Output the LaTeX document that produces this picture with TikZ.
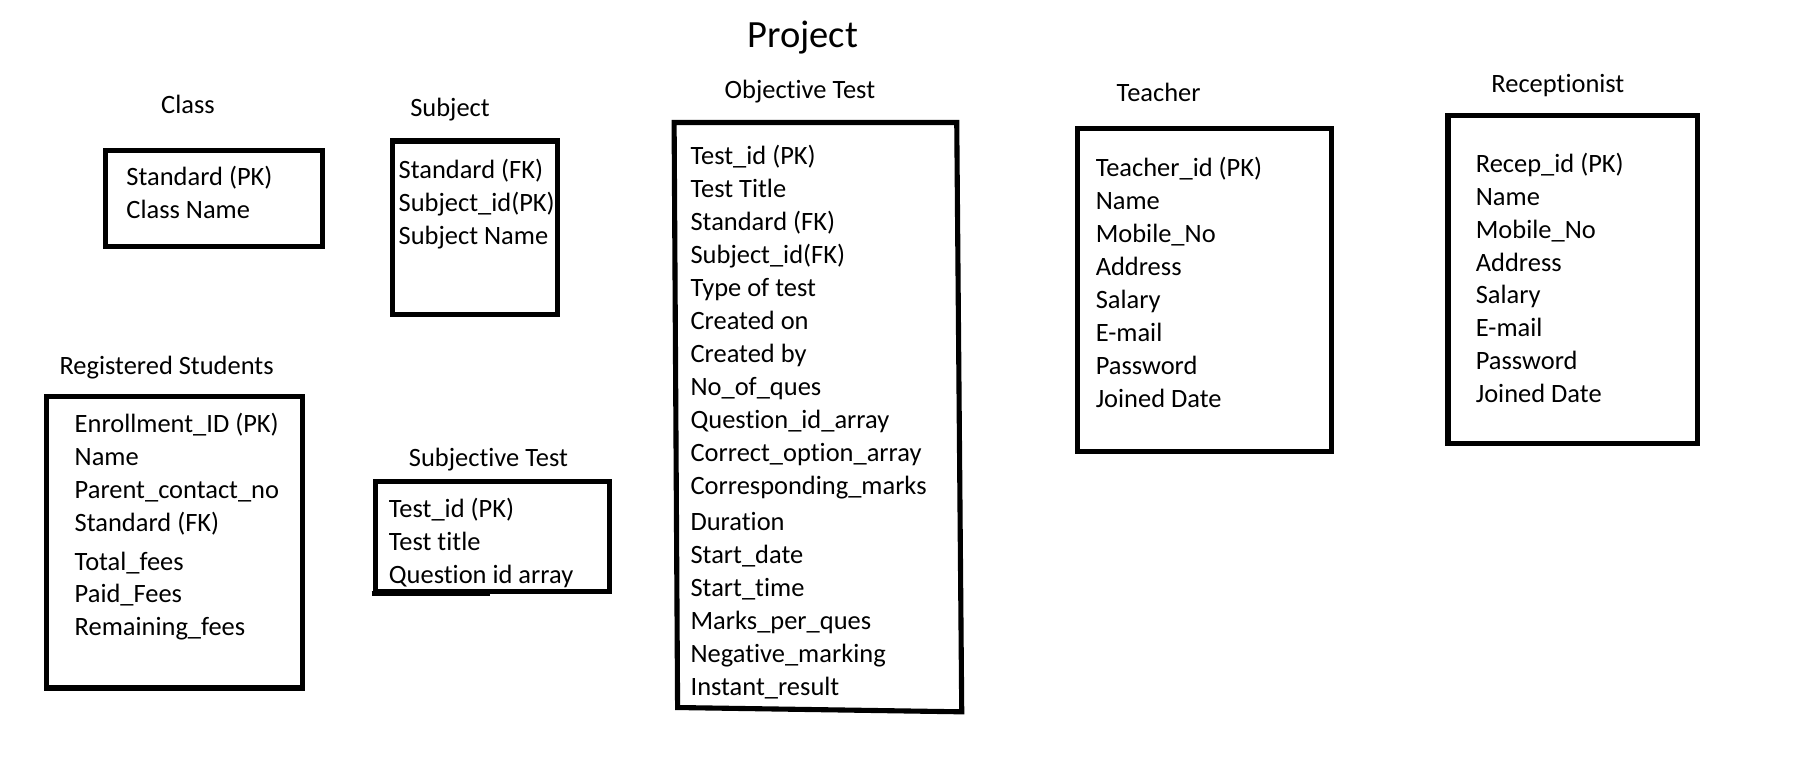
\documentclass[tikz,border=0pt]{standalone}
\usepackage{fontspec}
\setmainfont[Ligatures=NoCommon]{Carlito}
\usetikzlibrary{matrix,positioning}

\tikzset{
  tbl/.style={matrix of nodes, inner sep=0pt, anchor=north west, row sep=0pt,
    nodes={anchor=west, inner sep=0pt, text height=9.6pt, text depth=4.6pt,
      font=\fontsize{11.4}{14}\selectfont}},
  tblbox/.style={line width=2.2pt},
  ttl/.style={anchor=base, inner sep=0pt, font=\fontsize{11.4}{14}\selectfont}
}

\begin{document}
\begin{tikzpicture}[x=0.5pt,y=-0.5pt]
\useasboundingbox (0,0) rectangle (1560,674);

\node[anchor=base, inner sep=0pt, font=\fontsize{16.6}{20}\selectfont] (project) at (691.8,41.1) {Project};

% Class
\node[ttl] (class-t) at (162,97.4) {Class};
\draw[tblbox] (90.7,129.7) rectangle (278,212.5);
\matrix (class) [tbl] at (108.6,140.3) {
  Standard (PK) \\
  Class Name \\
};

% Subject
\node[ttl] (subj-t) at (387.9,100.6) {Subject};
\draw[tblbox] (338.4,121.5) rectangle (480.6,271.4);
\matrix (subj) [tbl] at (343.2,134.5) {
  Standard (FK) \\
  Subject\_id(PK) \\
  Subject Name \\
};

% Registered Students
\node[ttl] (reg-t) at (143.6,322.4) {Registered Students};
\draw[tblbox] (40.3,341.4) rectangle (260.8,593);
\matrix (reg) [tbl] at (64,352.9) {
  Enrollment\_ID (PK) \\
  Name \\
  Parent\_contact\_no \\
  Standard (FK) \\[2.6pt]
  Total\_fees \\
  Paid\_Fees \\
  Remaining\_fees \\
};

% Subjective Test
\node[ttl] (sbt-t) at (421,401.7) {Subjective Test};
\draw[tblbox] (324,414.7) -- (525,414.7) -- (525,510) -- (324,510) -- cycle;
\draw[tblbox] (320.4,511.5) -- (422.4,511.5);
\matrix (sbt) [tbl] at (334.8,426.2) {
  Test\_id (PK) \\
  Test title \\
  Question id array \\
};

% Objective Test
\node[ttl] (obt-t) at (689.4,84.8) {Objective Test};
\draw[tblbox] (581,105.6) -- (824.6,105.6) -- (828.9,613.5) -- (584,609.8) -- cycle;
\matrix (obt) [tbl] at (594.8,122.5) {
  Test\_id (PK) \\
  Test Title \\
  Standard (FK) \\
  Subject\_id(FK) \\
  Type of test \\
  Created on \\
  Created by \\
  No\_of\_ques \\
  Question\_id\_array \\
  Correct\_option\_array \\
  Corresponding\_marks \\[1.5pt]
  Duration \\
  Start\_date \\
  Start\_time \\
  Marks\_per\_ques \\
  Negative\_marking \\
  Instant\_result \\
};

% Teacher
\node[ttl] (teach-t) at (998.6,87.6) {Teacher};
\draw[tblbox] (928.9,110.8) rectangle (1147.4,389);
\matrix (teach) [tbl] at (944,132.5) {
  Teacher\_id (PK) \\
  Name \\
  Mobile\_No \\
  Address \\
  Salary \\
  E-mail \\
  Password \\
  Joined Date \\
};

% Receptionist
\node[ttl] (recep-t) at (1342.7,79.9) {Receptionist};
\draw[tblbox] (1248,99.8) rectangle (1463,382);
\matrix (recep) [tbl] at (1271.6,128.8) {
  Recep\_id (PK) \\
  Name \\
  Mobile\_No \\
  Address \\
  Salary \\
  E-mail \\
  Password \\
  Joined Date \\
};
\end{tikzpicture}
\end{document}
